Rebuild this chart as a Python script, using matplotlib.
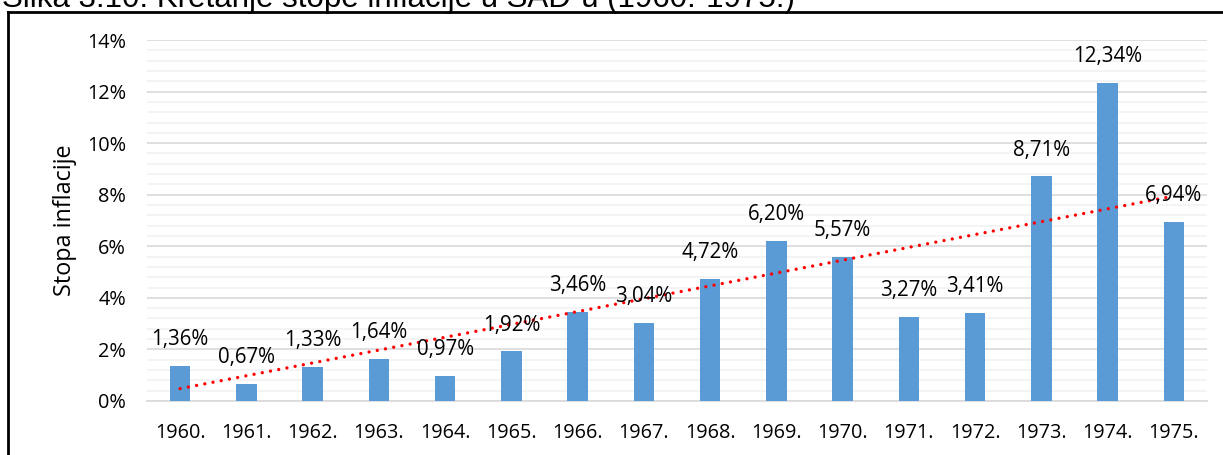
import numpy as np
import matplotlib
matplotlib.use("Agg")
import matplotlib.pyplot as plt
from matplotlib.lines import Line2D
from matplotlib.ticker import MultipleLocator, FuncFormatter

years = ["1960.", "1961.", "1962.", "1963.", "1964.", "1965.", "1966.", "1967.",
         "1968.", "1969.", "1970.", "1971.", "1972.", "1973.", "1974.", "1975."]
rates = [1.36, 0.67, 1.33, 1.64, 0.97, 1.92, 3.46, 3.04,
         4.72, 6.20, 5.57, 3.27, 3.41, 8.71, 12.34, 6.94]
# linear trendline values read at the first and last category
trend_values = [0.48, 7.95]
title = "Slika 3.10: Kretanje stope inflacije u SAD-u (1960.-1975.)"
ylabel = "Stopa inflacije"

W, H = 1223, 455
fig = plt.figure(figsize=(W / 100, H / 100), dpi=100)
font = "Open Sans"

ax = fig.add_axes([147 / W, 1 - 401 / H, (1207 - 147) / W, (401 - 40) / H])
x = np.arange(len(years))
ax.bar(x, rates, width=0.31, color="#5B9BD5", zorder=3)

ax.plot([x[0], x[-1]], trend_values, color="#FF0000", linestyle=(0, (0.01, 2.5)),
        linewidth=2.4, dash_capstyle="round", zorder=4)

for xi, v in zip(x, rates):
    ax.annotate(f"{v:.2f}%".replace(".", ","), (xi, v), xytext=(0, 19),
                textcoords="offset points", ha="center", va="center",
                fontsize=14.8, family=font, color="#000000", zorder=5)

ax.set_xlim(-0.5, len(years) - 0.5)
ax.set_ylim(0, 14)
ax.yaxis.set_major_locator(MultipleLocator(2))
ax.yaxis.set_minor_locator(MultipleLocator(0.4))
ax.yaxis.set_major_formatter(FuncFormatter(lambda v, p: f"{v:.0f}%"))
ax.grid(axis="y", which="major", color="#D9D9D9", linewidth=1.2, zorder=0)
ax.grid(axis="y", which="minor", color="#F2F2F2", linewidth=1.2, zorder=0)
ax.set_xticks(x)
ax.set_xticklabels(years, family=font, fontsize=14.3)
for lab in ax.get_yticklabels():
    lab.set_family(font)
    lab.set_fontsize(14.3)
ax.tick_params(axis="both", which="both", length=0)
ax.tick_params(axis="y", pad=15)
ax.tick_params(axis="x", pad=16)
for s in ["top", "right", "left"]:
    ax.spines[s].set_visible(False)
ax.spines["bottom"].set_color("#D9D9D9")
ax.spines["bottom"].set_linewidth(1.2)
ax.set_ylabel(ylabel, family=font, fontsize=16.8, labelpad=7)

# outer border (left and top edges visible)
fig.add_artist(Line2D([8 / W, 8 / W], [0, 1 - 12 / H], transform=fig.transFigure,
                      color="black", linewidth=2))
fig.add_artist(Line2D([8 / W, 1], [1 - 12 / H, 1 - 12 / H], transform=fig.transFigure,
                      color="black", linewidth=2))
fig.text(2 / W, 1 - 7 / H, title, family="Liberation Sans", fontsize=22.5,
         va="baseline", ha="left")

fig.savefig("out.png", dpi=100)
